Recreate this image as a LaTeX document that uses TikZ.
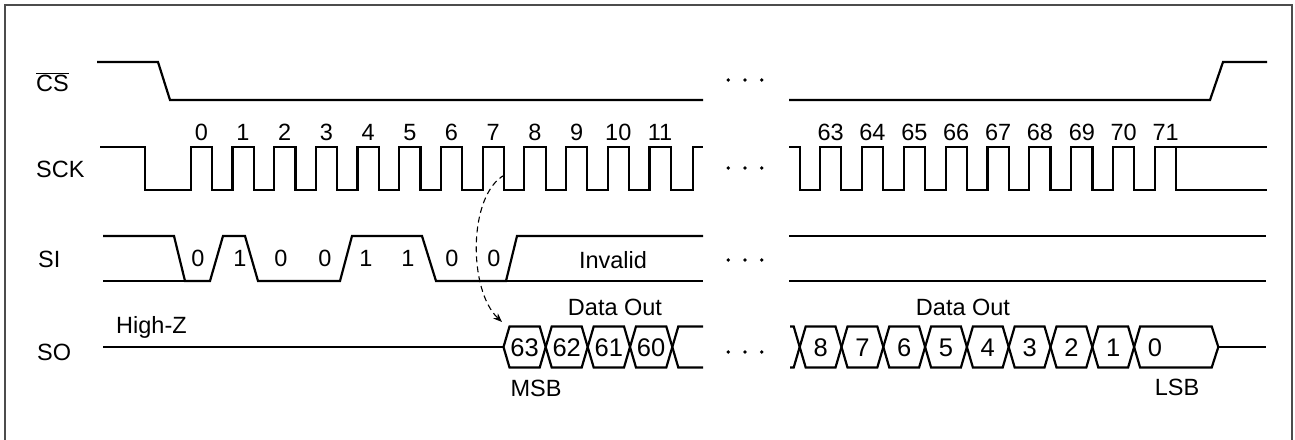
\documentclass[tikz,border=0pt]{standalone}
\usepackage{fontspec}
\setmainfont{Liberation Sans}
\usetikzlibrary{arrows.meta}
\begin{document}
\begin{tikzpicture}[x=1pt,y=-1pt,
  sig/.style={line width=2.2pt, black},
  frame/.style={line width=1.8pt, draw=black!70},
  lbl/.style={font=\fontsize{23.5}{26}\selectfont, inner sep=0pt, anchor=base},
  namelbl/.style={lbl, anchor=base west},
  celllbl/.style={font=\fontsize{25.5}{27}\selectfont, inner sep=0pt, anchor=base},
  dot/.style={fill=black, draw=none},
  dasharrow/.style={line width=1.1pt, dash pattern=on 6pt off 4pt, -{Stealth[length=9pt,width=7pt]}}]
\useasboundingbox (0,0) rectangle (1295,439);
% frame
\draw[frame] (5,440) -- (5,5) -- (1292,5) -- (1292,440);

% signal names
\node[namelbl] (lcs) at (36,91) {$\overline{\mbox{CS}}$};
\node[namelbl] (lsck) at (36,177) {SCK};
\node[namelbl] (lsi) at (38,267) {SI};
\node[namelbl] (lso) at (37,360) {SO};

% dots
\foreach \yy in {80,168,260,352}
  \foreach \xx in {728.3,745,761.7}
    \fill[dot] (\xx,\yy) circle (1.9);

% CS
\draw[sig] (97,62) -- (158,62) -- (170,100) -- (703,100);
\draw[sig] (789,100) -- (1210,100) -- (1223,62) -- (1267,62);

% SCK left
\draw[sig] (100,147) -- (145,147) -- (145,190)
  \foreach \k in {0,...,11}{ -- ({190.7+41.7*\k},190) -- ({190.7+41.7*\k},147) -- ({212+41.7*\k},147) -- ({212+41.7*\k},190)}
  -- (693.3,190) -- (693.3,147) -- (703,147);
\foreach \k in {0,...,11}
  \node[lbl] (n\k) at ({201.3+41.7*\k},140.5) {\k};
% SCK right
\draw[sig] (789,147) -- (800,147) -- (800,190)
  \foreach \k in {0,...,7}{ -- ({820+41.875*\k},190) -- ({820+41.875*\k},147) -- ({841.2+41.875*\k},147) -- ({841.2+41.875*\k},190)}
  -- (1155,190) -- (1155,147) -- (1267,147);
\draw[sig] (1176,147) -- (1176,190) -- (1267,190);
\foreach \k [evaluate=\k as \n using int(63+\k)] in {0,...,8}
  \node[lbl] (m\k) at ({830.6+41.875*\k},140.5) {\n};
\coordinate (clk7) at (504.5,175);

% SI left
\draw[sig] (103,236) -- (174,236) -- (185,281) -- (210,281) -- (223,236) -- (245,236) -- (258,281)
  -- (340,281) -- (352,236) -- (422,236) -- (436,281) -- (506,281) -- (517,236) -- (703,236);
\draw[sig] (103,281) -- (185,281);
\draw[sig] (506,281) -- (703,281);
% SI right
\draw[sig] (789,236) -- (1266,236);
\draw[sig] (789,281) -- (1266,281);
% SI bits
\foreach \b/\xx in {0/198,1/240,0/281,0/325,1/366,1/408,0/452,0/494}
  \node[lbl] at (\xx,266.7) {\b};
\node[lbl] (inv) at (613,268) {Invalid};

% SO
\draw[sig] (103,347) -- (503.5,347);
\node[lbl, anchor=base west] (hz) at (116,333) {High-Z};
\def\tp{326.5}\def\bt{367.5}\def\md{347}
% left cells
\foreach \a/\b/\t [count=\i] in {503.5/545.7/63,545.7/587.7/62,587.7/630/61,630/672.3/60}{
  \draw[sig, line join=miter] (\a,\md) -- ({\a+6},\tp) -- ({\b-6},\tp) -- (\b,\md) -- ({\b-6},\bt) -- ({\a+6},\bt) -- cycle;
  \node[celllbl] (c\t) at ({(\a+\b)/2},356.5) {\t};
}
\draw[sig] (703,\tp) -- (678.3,\tp) -- (672.3,\md) -- (678.3,\bt) -- (703,\bt);
\node[lbl] (dol) at (615,315) {Data Out};
\node[lbl] (msb) at (536,396.7) {MSB};
\coordinate (cellstart) at (502,322);
\draw[dasharrow] (clk7) .. controls (468,195) and (468,290) .. (cellstart);

% right cells
\draw[sig] (790,\tp) -- (793.7,\tp) -- (799.7,\md) -- (793.7,\bt) -- (790,\bt);
\foreach \k [evaluate=\k as \a using 799.7+41.8*\k, evaluate=\k as \b using 799.7+41.8*(\k+1), evaluate=\k as \t using int(8-\k)] in {0,...,7}{
  \draw[sig] (\a,\md) -- ({\a+6},\tp) -- ({\b-6},\tp) -- (\b,\md) -- ({\b-6},\bt) -- ({\a+6},\bt) -- cycle;
  \node[celllbl] (d\t) at ({(\a+\b)/2},356.5) {\t};
}
\draw[sig] (1134.1,\md) -- (1140.1,\tp) -- (1211.7,\tp) -- (1218.3,\md) -- (1211.7,\bt) -- (1140.1,\bt) -- cycle;
\node[celllbl] (d0) at (1155,356.5) {0};
\draw[sig] (1218.3,\md) -- (1266,\md);
\node[lbl] (dor) at (963,315) {Data Out};
\node[lbl] (lsb) at (1177,395) {LSB};
\end{tikzpicture}
\end{document}
